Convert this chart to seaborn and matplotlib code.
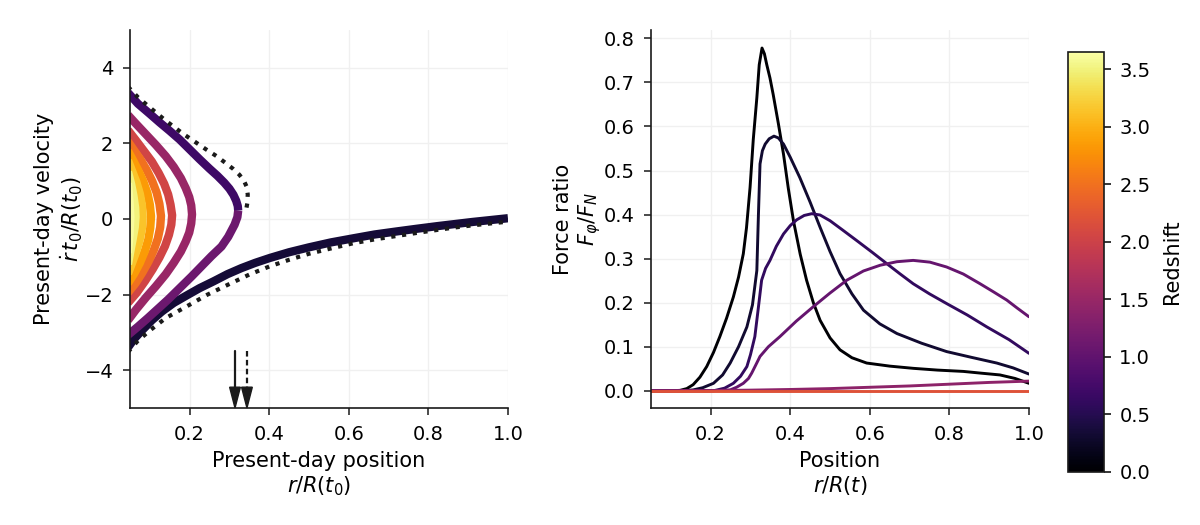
import numpy as np
import pandas as pd
import matplotlib
matplotlib.use("Agg")
import matplotlib.pyplot as plt
import seaborn as sns
from matplotlib.colors import Normalize
from matplotlib.cm import ScalarMappable

sns.set_theme(style="ticks")
plt.rcParams['font.family'] = ['DejaVu Sans']
plt.rcParams['mathtext.fontset'] = 'dejavusans'
for key in ['text.color', 'axes.labelcolor', 'xtick.color', 'ytick.color', 'axes.edgecolor']:
    plt.rcParams[key] = 'black'

z_max = 3.65

# left panel: present-day phase space, one band per redshift
phase_z = [0.7, 1.1, 1.5, 2.05, 2.5, 2.85, 3.15, 3.5, 3.62, 0.35]
phase_x = [
    [0.045, 0.07, 0.10, 0.125, 0.15, 0.175, 0.20, 0.225, 0.25, 0.27, 0.287, 0.30, 0.31, 0.317, 0.321, 0.322],
    [0.322, 0.320, 0.313, 0.297, 0.28, 0.255, 0.230, 0.205, 0.175, 0.146, 0.12, 0.095, 0.07, 0.045],
    [0.045, 0.065, 0.09, 0.115, 0.14, 0.16, 0.178, 0.19, 0.199, 0.204, 0.206,
     0.204, 0.199, 0.19, 0.178, 0.16, 0.14, 0.115, 0.09, 0.065, 0.045],
    [0.045, 0.065, 0.085, 0.105, 0.122, 0.136, 0.146, 0.152, 0.156,
     0.154, 0.148, 0.138, 0.124, 0.107, 0.088, 0.067, 0.045],
    [0.045, 0.06, 0.076, 0.092, 0.106, 0.117, 0.124, 0.128,
     0.126, 0.12, 0.11, 0.097, 0.081, 0.064, 0.045],
    [0.045, 0.058, 0.071, 0.084, 0.094, 0.1, 0.103,
     0.101, 0.096, 0.087, 0.075, 0.061, 0.045],
    [0.045, 0.055, 0.066, 0.075, 0.08, 0.082,
     0.08, 0.074, 0.065, 0.055, 0.045],
    [0.045, 0.053, 0.059, 0.063, 0.064, 0.062, 0.057, 0.051, 0.045],
    [0.045, 0.049, 0.051, 0.049, 0.045],
    [0.045, 0.06, 0.08, 0.105, 0.13, 0.16, 0.193, 0.225, 0.26, 0.295, 0.33, 0.365, 0.402, 0.45, 0.50,
     0.555, 0.612, 0.665, 0.72, 0.77, 0.822, 0.87, 0.91, 0.955, 1.0],
]
phase_v = [
    [3.34, 3.05, 2.78, 2.55, 2.33, 2.10, 1.84, 1.58, 1.33, 1.14, 0.96, 0.80, 0.64, 0.48, 0.34, 0.22],
    [0.22, 0.05, -0.15, -0.47, -0.73, -0.98, -1.25, -1.52, -1.83, -2.13, -2.38, -2.62, -2.85, -3.07],
    [2.75, 2.52, 2.24, 1.96, 1.66, 1.38, 1.08, 0.82, 0.58, 0.36, 0.12,
     -0.12, -0.36, -0.60, -0.86, -1.16, -1.46, -1.78, -2.08, -2.40, -2.68],
    [2.35, 2.08, 1.80, 1.52, 1.22, 0.93, 0.65, 0.38, 0.10,
     -0.15, -0.42, -0.72, -1.02, -1.33, -1.64, -1.95, -2.22],
    [2.05, 1.82, 1.58, 1.30, 1.00, 0.70, 0.40, 0.08,
     -0.22, -0.52, -0.82, -1.12, -1.42, -1.70, -1.95],
    [1.80, 1.55, 1.28, 0.98, 0.68, 0.38, 0.07,
     -0.24, -0.55, -0.86, -1.16, -1.44, -1.70],
    [1.55, 1.28, 0.98, 0.66, 0.36, 0.06,
     -0.25, -0.57, -0.88, -1.17, -1.45],
    [1.25, 0.92, 0.60, 0.30, 0.05, -0.22, -0.52, -0.85, -1.20],
    [0.95, 0.45, 0.05, -0.40, -0.90],
    [-3.40, -3.18, -2.95, -2.68, -2.45, -2.22, -2.02, -1.83, -1.65, -1.46, -1.30, -1.16, -1.03, -0.88, -0.75,
     -0.62, -0.51, -0.41, -0.33, -0.26, -0.19, -0.13, -0.08, -0.03, 0.02],
]

# dotted envelope
env_up_x = [0.045, 0.07, 0.10, 0.14, 0.184, 0.215, 0.24, 0.268, 0.293, 0.31, 0.325, 0.336, 0.343, 0.346, 0.345, 0.341]
env_up_v = [3.50, 3.22, 2.95, 2.60, 2.25, 2.03, 1.85, 1.66, 1.46, 1.32, 1.17, 1.02, 0.86, 0.65, 0.42, 0.19]
env_lo_x = [0.045, 0.07, 0.10, 0.14, 0.193, 0.245, 0.30, 0.35, 0.402, 0.45, 0.50, 0.555, 0.612, 0.665, 0.72,
            0.77, 0.822, 0.87, 0.91, 0.955, 1.0]
env_lo_v = [-3.52, -3.22, -2.95, -2.62, -2.31, -2.00, -1.72, -1.47, -1.25, -1.08, -0.92, -0.78, -0.64, -0.54, -0.45,
            -0.37, -0.29, -0.22, -0.17, -0.12, -0.07]

# turnaround radii (solid / dashed arrows)
r_turn = [0.314, 0.344]

# right panel: force ratio vs position
force_z = [2.2, 1.4, 1.05, 0.6, 0.3, 0.0]
force_x = [
    [0.05, 1.0],
    [0.05, 0.2, 0.3, 0.4, 0.5, 0.6, 0.7, 0.8, 0.9, 1.0],
    [0.05, 0.20, 0.249, 0.265, 0.282, 0.295, 0.303, 0.313, 0.324, 0.345, 0.374, 0.415, 0.458, 0.50, 0.542,
     0.584, 0.626, 0.668, 0.709, 0.751, 0.793, 0.835, 0.877, 0.91, 0.944, 0.97, 1.0],
    [0.05, 0.18, 0.207, 0.235, 0.257, 0.275, 0.291, 0.30, 0.311, 0.32, 0.328, 0.338, 0.349, 0.365, 0.383,
     0.40, 0.416, 0.435, 0.454, 0.475, 0.50, 0.53, 0.567, 0.605, 0.642, 0.675, 0.709, 0.75, 0.793, 0.845,
     0.894, 0.95, 1.0],
    [0.05, 0.13, 0.156, 0.18, 0.207, 0.23, 0.249, 0.27, 0.291, 0.305, 0.316, 0.32, 0.324, 0.33, 0.337,
     0.347, 0.359, 0.37, 0.383, 0.40, 0.424, 0.45, 0.475, 0.50, 0.525, 0.555, 0.584, 0.625, 0.668, 0.73,
     0.793, 0.855, 0.919, 0.96, 1.0],
    [0.05, 0.10, 0.123, 0.14, 0.156, 0.173, 0.19, 0.207, 0.223, 0.24, 0.257, 0.27, 0.282, 0.29, 0.299,
     0.307, 0.316, 0.322, 0.329, 0.335, 0.341, 0.349, 0.357, 0.37, 0.383, 0.395, 0.408, 0.425, 0.441,
     0.458, 0.475, 0.50, 0.525, 0.555, 0.592, 0.65, 0.709, 0.77, 0.835, 0.88, 0.927, 0.965, 1.0],
]
force_y = [
    [0.0, 0.0],
    [0.0, 0.0005, 0.0015, 0.003, 0.005, 0.008, 0.011, 0.015, 0.019, 0.022],
    [0.0, 0.0, 0.002, 0.008, 0.017, 0.028, 0.040, 0.058, 0.078, 0.100, 0.123, 0.158, 0.191, 0.222, 0.251,
     0.272, 0.285, 0.293, 0.296, 0.292, 0.281, 0.265, 0.243, 0.225, 0.206, 0.188, 0.168],
    [0.0, 0.0, 0.0, 0.006, 0.017, 0.033, 0.055, 0.082, 0.123, 0.190, 0.251, 0.278, 0.296, 0.328, 0.356,
     0.375, 0.388, 0.398, 0.402, 0.399, 0.386, 0.366, 0.341, 0.315, 0.289, 0.266, 0.243, 0.220, 0.198,
     0.172, 0.145, 0.116, 0.085],
    [0.0, 0.0, 0.002, 0.007, 0.017, 0.036, 0.063, 0.100, 0.145, 0.195, 0.273, 0.400, 0.515, 0.545, 0.560,
     0.572, 0.578, 0.574, 0.560, 0.530, 0.484, 0.428, 0.371, 0.316, 0.266, 0.220, 0.183, 0.152, 0.130,
     0.108, 0.089, 0.076, 0.063, 0.052, 0.038],
    [0.0, 0.0, 0.001, 0.005, 0.014, 0.031, 0.055, 0.087, 0.123, 0.165, 0.213, 0.258, 0.311, 0.370, 0.462,
     0.570, 0.665, 0.740, 0.778, 0.765, 0.740, 0.710, 0.673, 0.607, 0.537, 0.460, 0.386, 0.310, 0.251,
     0.200, 0.160, 0.120, 0.093, 0.075, 0.063, 0.056, 0.051, 0.047, 0.044, 0.040, 0.036, 0.028, 0.017],
]


def to_frame(xs, ys, zs):
    rows = []
    for i, (x, y, z) in enumerate(zip(xs, ys, zs)):
        rows.append(pd.DataFrame({'x': x, 'y': y, 'z': z, 'id': i}))
    return pd.concat(rows, ignore_index=True)


phase_df = to_frame(phase_x, phase_v, phase_z)
force_df = to_frame(force_x, force_y, force_z)

fig = plt.figure(figsize=(12, 5.25), dpi=100)
ax1 = fig.add_axes([0.1083, 0.2229, 0.315, 0.72])
ax2 = fig.add_axes([0.5425, 0.2229, 0.315, 0.72])
cax = fig.add_axes([0.89, 0.101, 0.03, 0.80])

norm = Normalize(0, z_max)

sns.lineplot(data=phase_df, x='x', y='y', hue='z', units='id', estimator=None, sort=False,
             palette='inferno', hue_norm=norm, linewidth=6, legend=False, ax=ax1,
             solid_capstyle='butt', solid_joinstyle='round')
ax1.plot(env_up_x, env_up_v, color='k', lw=3, ls=(0, (1, 1.6)))
ax1.plot(env_lo_x, env_lo_v, color='k', lw=3, ls=(0, (1, 1.6)))

for r, style in zip(r_turn, ['-', (0, (2.5, 1.5))]):
    ax1.plot([r, r], [-3.5, -4.5], color='k', lw=1.6, ls=style)
    ax1.arrow(r, -4.45, 0, -0.55, width=0.0001, head_width=0.027, head_length=0.55,
              length_includes_head=True, color='k', clip_on=False)

ax1.set_xlim(0.05, 1.0)
ax1.set_ylim(-5, 5)
ax1.set_xticks([0.2, 0.4, 0.6, 0.8, 1.0])
ax1.set_yticks([-4, -2, 0, 2, 4])
ax1.set_xlabel("Present-day position\n$r/R(t_0)$", fontsize=15, labelpad=5)
ax1.set_ylabel("Present-day velocity\n$\\dot{r}\\,t_0/R(t_0)$", fontsize=15, labelpad=0)

sns.lineplot(data=force_df, x='x', y='y', hue='z', units='id', estimator=None, sort=False,
             palette='inferno', hue_norm=norm, linewidth=2.1, legend=False, ax=ax2)
ax2.set_xlim(0.05, 1.0)
ax2.set_ylim(-0.039, 0.819)
ax2.set_xticks([0.2, 0.4, 0.6, 0.8, 1.0])
ax2.set_yticks(np.arange(0, 0.81, 0.1))
ax2.set_xlabel("Position\n$r/R(t)$", fontsize=15, labelpad=5)
ax2.set_ylabel("Force ratio\n$F_\\varphi/F_N$", fontsize=15, labelpad=0)

for ax in (ax1, ax2):
    sns.despine(ax=ax)
    ax.grid(True, color='#f0f0f0', lw=1)
    ax.set_axisbelow(True)
    ax.tick_params(labelsize=14, direction='out', length=5, width=1.1, color='k', pad=7)
    for s in ('left', 'bottom'):
        ax.spines[s].set_color('k')
        ax.spines[s].set_linewidth(1.2)

cb = fig.colorbar(ScalarMappable(norm=norm, cmap='inferno'), cax=cax)
cb.set_ticks(np.arange(0, 3.51, 0.5))
cb.ax.tick_params(labelsize=14, length=5, width=1.1, pad=6)
cb.set_label("Redshift", fontsize=15, labelpad=8)
cb.outline.set_edgecolor('k')
cb.outline.set_linewidth(1.2)

fig.savefig("out.png", dpi=100)
